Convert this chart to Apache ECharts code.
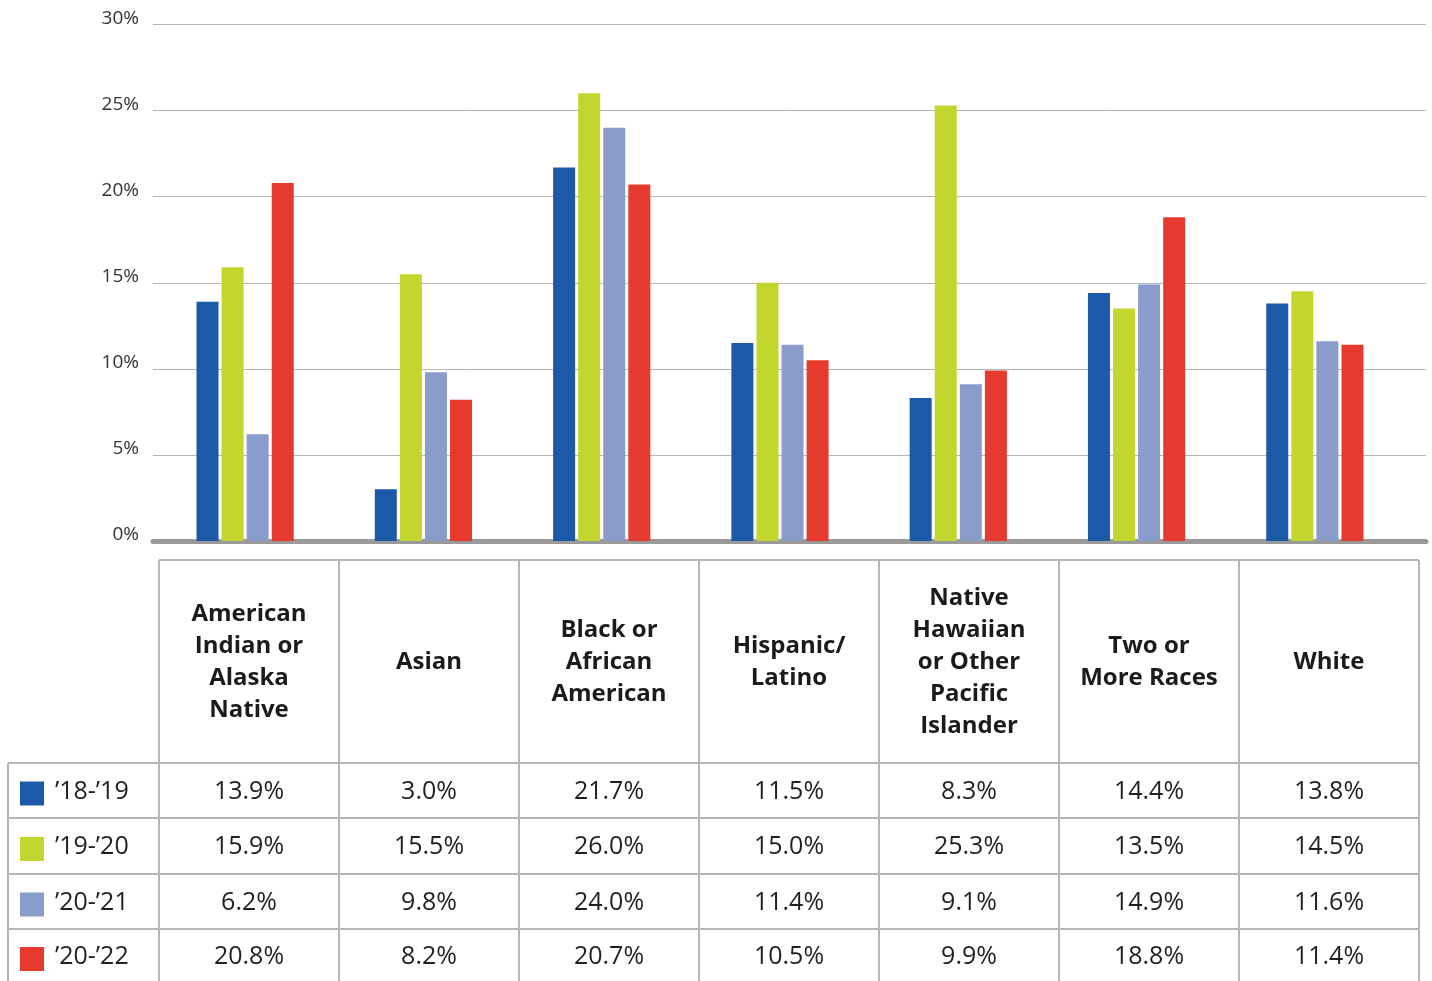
<!DOCTYPE html>
<html><head><meta charset="utf-8">
<script src="https://cdn.jsdelivr.net/npm/echarts@6/dist/echarts.min.js"></script>
<style>html,body{margin:0;padding:0;background:#fff}#c{width:1432px;height:981px}</style>
</head><body><div id="c"></div>
<script>
const categories = ['American\nIndian or\nAlaska\nNative', 'Asian', 'Black or\nAfrican\nAmerican', 'Hispanic/\nLatino', 'Native\nHawaiian\nor Other\nPacific\nIslander', 'Two or\nMore Races', 'White'];
const seriesNames = ['\u201918-\u201919', '\u201919-\u201920', '\u201920-\u201921', '\u201920-\u201922'];
const s1819 = [13.9, 3.0, 21.7, 11.5, 8.3, 14.4, 13.8];
const s1920 = [15.9, 15.5, 26.0, 15.0, 25.3, 13.5, 14.5];
const s2021 = [6.2, 9.8, 24.0, 11.4, 9.1, 14.9, 11.6];
const s2022 = [20.8, 8.2, 20.7, 10.5, 9.9, 18.8, 11.4];
const colors = ['#1a5aa8', '#c2d62e', '#8a9ccc', '#e63a2e'];

const allSeries = [s1819, s1920, s2021, s2022];
const FONT = '"Open Sans", "Noto Sans", sans-serif';
const chart = echarts.init(document.getElementById('c'), null, {renderer: 'canvas'});

// table layout
const tLeft = 159, colW = 180, tTop = 560, headBottom = 763;
const rowLines = [763, 818, 874, 929];
const rowCenters = [790.5, 846, 901.5, 956];
const tRight = tLeft + colW * categories.length;
const lineColor = '#b6b6b6';
const g = [];
for (let i = 0; i <= categories.length; i++) {
  const x = tLeft + colW * i;
  g.push({type: 'line', shape: {x1: x, y1: tTop, x2: x, y2: 990}, style: {stroke: lineColor, lineWidth: 2}});
}
g.push({type: 'line', shape: {x1: 8, y1: headBottom, x2: 8, y2: 990}, style: {stroke: lineColor, lineWidth: 2}});
g.push({type: 'line', shape: {x1: tLeft, y1: tTop, x2: tRight, y2: tTop}, style: {stroke: lineColor, lineWidth: 2}});
rowLines.forEach(y => g.push({type: 'line', shape: {x1: 8, y1: y, x2: tRight, y2: y}, style: {stroke: lineColor, lineWidth: 2}}));
categories.forEach((c, i) => {
  g.push({type: 'text', x: tLeft + colW * i + 90, y: (tTop + headBottom) / 2 + 1,
    style: {text: c, font: 'bold 24px ' + FONT, fill: '#1e1a1b', align: 'center', verticalAlign: 'middle', lineHeight: 32}});
});
allSeries.forEach((arr, r) => {
  const cy = rowCenters[r];
  g.push({type: 'rect', shape: {x: 20, y: cy - 9, width: 24, height: 24}, style: {fill: colors[r]}});
  g.push({type: 'text', x: 55, y: cy + 1, style: {text: seriesNames[r], font: '25px ' + FONT, fill: '#231f20', align: 'left', verticalAlign: 'middle'}});
  arr.forEach((v, i) => {
    g.push({type: 'text', x: tLeft + colW * i + 90, y: cy + 1,
      style: {text: v.toFixed(1) + '%', font: '25px ' + FONT, fill: '#231f20', align: 'center', verticalAlign: 'middle'}});
  });
});

chart.setOption({
  animation: false,
  backgroundColor: '#fff',
  grid: [
    {left: 153, right: 6, top: 24.5, bottom: 440},
    {left: 156, width: 1248, top: 24.5, bottom: 440}
  ],
  xAxis: [
    {gridIndex: 0, type: 'category', data: categories, axisLine: {lineStyle: {color: '#9a9a9a', width: 5}}, axisTick: {show: false}, axisLabel: {show: false}},
    {gridIndex: 1, type: 'category', data: categories, axisLine: {show: false}, axisTick: {show: false}, axisLabel: {show: false}}
  ],
  yAxis: [
    {gridIndex: 0, type: 'value', min: 0, max: 30, interval: 5,
      axisLabel: {formatter: '{value}%', fontFamily: FONT, fontSize: 19, color: '#333', margin: 14, verticalAlign: 'bottom', lineHeight: 12},
      axisLine: {show: false}, axisTick: {show: false},
      splitLine: {lineStyle: {color: '#b4b4b4', width: 1}}},
    {gridIndex: 1, type: 'value', min: 0, max: 30, interval: 5, show: false, splitLine: {show: false}}
  ],
  series: allSeries.map((arr, i) => ({
    name: seriesNames[i], type: 'bar', xAxisIndex: 1, yAxisIndex: 1,
    data: arr, barWidth: 22, barGap: '14%', itemStyle: {color: colors[i]}, z: 3
  })),
  graphic: g
});
</script></body></html>
